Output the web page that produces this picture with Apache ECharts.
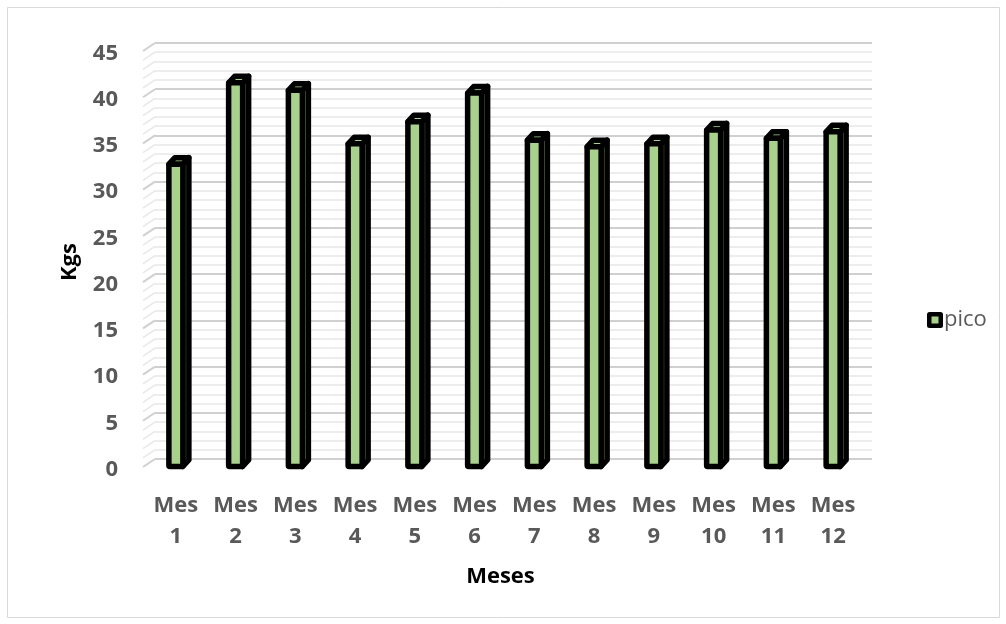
<!DOCTYPE html>
<html>
<head>
<meta charset="utf-8">
<script src="https://cdn.jsdelivr.net/npm/echarts@6/dist/echarts.min.js"></script>
<style>
  html, body { margin: 0; padding: 0; background: #ffffff; }
  #chart { width: 1006px; height: 624px; }
</style>
</head>
<body>
<div id="chart"></div>
<script>
// Monthly peak weight (kg)
const categories = ['Mes\n1', 'Mes\n2', 'Mes\n3', 'Mes\n4', 'Mes\n5', 'Mes\n6',
                    'Mes\n7', 'Mes\n8', 'Mes\n9', 'Mes\n10', 'Mes\n11', 'Mes\n12'];
const pico = [32.7, 41.5, 40.7, 34.9, 37.3, 40.4, 35.3, 34.6, 34.9, 36.4, 35.5, 36.2];
const wallLevels = [];           // one side-wall rule per minor gridline
for (let v = 0; v <= 45; v++) wallLevels.push(v);

const GREEN = '#a9d18e';
const SIDE_GREEN = '#7ea565';
const INK = '#000000';
const LABEL = '#595959';
const FONT = '"Open Sans", "Noto Sans", sans-serif';

// legend swatch: thick black frame around a green square
const SWATCH = 'image://data:image/svg+xml;utf8,' + encodeURIComponent(
  '<svg xmlns="http://www.w3.org/2000/svg" width="16" height="16" viewBox="0 0 16 16">' +
  '<rect x="0" y="0" width="16" height="16" rx="2.5" fill="#000"/>' +
  '<rect x="4.5" y="4.5" width="7" height="7" fill="' + GREEN + '"/></svg>');

// perspective offsets
const WALL_DX = -12, WALL_DY = 8;     // front plane relative to back wall
const BAR_SHIFT_X = -9, BAR_SHIFT_Y = 7.5;
const HALF_W = 7, DEPTH_X = 6, DEPTH_Y = -6.5;
const OUTLINE = 5.5;

function renderBar(params, api) {
  const top = api.coord([api.value(0), api.value(1)]);
  const base = api.coord([api.value(0), 0]);
  const cx = top[0] + BAR_SHIFT_X;
  const yt = top[1] + BAR_SHIFT_Y;
  const yb = base[1] + BAR_SHIFT_Y;
  const stroke = { stroke: INK, lineWidth: OUTLINE, lineJoin: 'round' };
  return {
    type: 'group',
    children: [
      { type: 'polygon', shape: { points: [[cx + HALF_W, yt], [cx + HALF_W + DEPTH_X, yt + DEPTH_Y],
          [cx + HALF_W + DEPTH_X, yb + DEPTH_Y], [cx + HALF_W, yb]] },
        style: Object.assign({ fill: SIDE_GREEN }, stroke) },
      { type: 'polygon', shape: { points: [[cx - HALF_W, yt], [cx - HALF_W + DEPTH_X, yt + DEPTH_Y],
          [cx + HALF_W + DEPTH_X, yt + DEPTH_Y], [cx + HALF_W, yt]] },
        style: Object.assign({ fill: GREEN }, stroke) },
      { type: 'rect', shape: { x: cx - HALF_W, y: yt, width: HALF_W * 2, height: yb - yt, r: 1 },
        style: Object.assign({ fill: GREEN }, stroke) }
    ]
  };
}

function renderWall(params, api) {
  const v = api.value(0);
  const p = api.coord([0, v]);
  const x = params.coordSys.x;
  const major = v % 5 === 0;
  return {
    type: 'line',
    shape: { x1: x + WALL_DX, y1: p[1] + WALL_DY, x2: x, y2: p[1] },
    style: { stroke: major ? '#d0d0d0' : '#e8e8e8', lineWidth: major ? 2 : 1.5 }
  };
}

const chart = echarts.init(document.getElementById('chart'));
chart.setOption({
  backgroundColor: '#ffffff',
  animation: false,
  graphic: [{
    type: 'rect', shape: { x: 7.5, y: 7.5, width: 992, height: 610 },
    style: { fill: 'none', stroke: '#d9d9d9', lineWidth: 1 }, silent: true, z: -10
  }],
  grid: { left: 155, right: 134, top: 43, bottom: 165 },
  legend: {
    data: [{ name: 'pico', icon: SWATCH }],
    left: 922, top: 304,
    orient: 'vertical',
    itemWidth: 16, itemHeight: 16,
    itemGap: 4,
    textStyle: { color: LABEL, fontFamily: FONT, fontSize: 22, padding: [0, 0, 0, -4] }
  },
  xAxis: {
    type: 'category',
    data: categories,
    name: 'Meses',
    nameLocation: 'middle',
    nameGap: 107,
    nameTextStyle: { color: INK, fontFamily: FONT, fontSize: 22, fontWeight: 'bold', padding: [0, 26, 0, 0] },
    axisLine: { show: false },
    axisTick: { show: false },
    axisLabel: {
      interval: 0, margin: 31,
      color: LABEL, fontFamily: FONT, fontSize: 22, fontWeight: 'bold',
      lineHeight: 31, padding: [0, 18, 0, 0]
    },
    splitLine: { show: false }
  },
  yAxis: {
    type: 'value',
    min: 0, max: 45, interval: 5,
    name: 'Kgs',
    nameLocation: 'middle',
    nameGap: 74,
    nameRotate: 90,
    nameTextStyle: { color: INK, fontFamily: FONT, fontSize: 22, fontWeight: 'bold', padding: [0, 22, 0, 0] },
    axisLine: { show: false },
    axisTick: { show: false },
    axisLabel: {
      margin: 37,
      color: LABEL, fontFamily: FONT, fontSize: 22, fontWeight: 'bold',
      verticalAlign: 'top', lineHeight: 21
    },
    splitLine: { show: true, lineStyle: { color: '#d0d0d0', width: 2 } },
    minorTick: { show: false, splitNumber: 5 },
    minorSplitLine: { show: true, lineStyle: { color: '#e8e8e8', width: 1.5 } }
  },
  series: [
    {
      name: 'wall',
      type: 'custom',
      renderItem: renderWall,
      data: wallLevels,
      encode: { y: 0 },
      silent: true,
      z: 1
    },
    {
      name: 'pico',
      type: 'custom',
      renderItem: renderBar,
      data: pico.map((v, i) => [i, v]),
      encode: { x: 0, y: 1 },
      itemStyle: { color: GREEN, borderColor: INK, borderWidth: OUTLINE },
      z: 3
    }
  ]
});
</script>
</body>
</html>
